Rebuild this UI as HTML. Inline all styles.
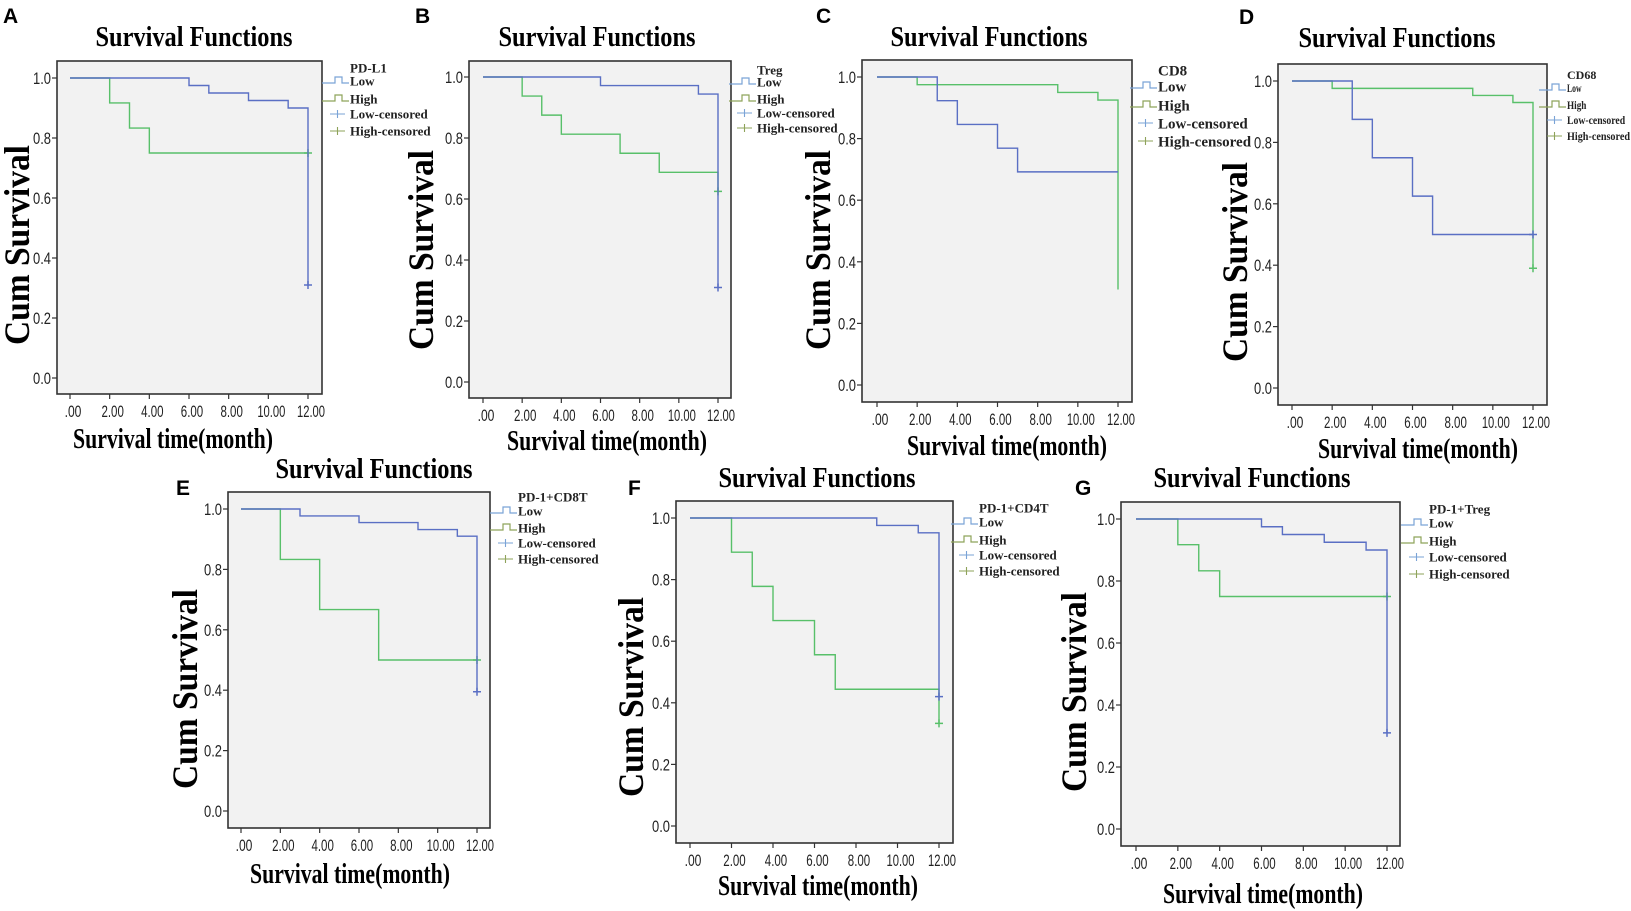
<!DOCTYPE html>
<html><head><meta charset="utf-8"><style>
html,body{margin:0;padding:0;background:#fff;}
svg{display:block;}
</style></head><body>
<svg id="fig" width="1631" height="911" viewBox="0 0 1631 911" xmlns="http://www.w3.org/2000/svg"></svg>
<script>
// ---- data (times in months, survival proportions) ----
const xTickLabels = [".00","2.00","4.00","6.00","8.00","10.00","12.00"];
const xTickValues = [0,2,4,6,8,10,12];
const yTickLabels = ["0.0","0.2","0.4","0.6","0.8","1.0"];
const yTickValues = [0,0.2,0.4,0.6,0.8,1.0];

const aLowT = [0,6,7,9,11,12];   const aLowS = [1,0.975,0.95,0.925,0.9,0.31];
const aHighT = [0,2,3,4,12];     const aHighS = [1,0.917,0.833,0.75,0.75];
const bLowT = [0,6,11,12];       const bLowS = [1,0.972,0.944,0.31];
const bHighT = [0,2,3,4,7,9,12]; const bHighS = [1,0.9375,0.875,0.8125,0.75,0.6875,0.625];
const cLowT = [0,3,4,6,7,12];    const cLowS = [1,0.923,0.846,0.769,0.692,0.692];
const cHighT = [0,2,9,11,12];    const cHighS = [1,0.975,0.95,0.925,0.31];
const dLowT = [0,3,4,6,7,12];    const dLowS = [1,0.875,0.75,0.625,0.5,0.5];
const dHighT = [0,2,9,11,12];    const dHighS = [1,0.976,0.953,0.93,0.39];
const eLowT = [0,3,6,9,11,12];   const eLowS = [1,0.977,0.955,0.932,0.91,0.395];
const eHighT = [0,2,4,7,12];     const eHighS = [1,0.833,0.667,0.5,0.5];
const fLowT = [0,9,11,12];       const fLowS = [1,0.976,0.952,0.42];
const fHighT = [0,2,3,4,6,7,12]; const fHighS = [1,0.889,0.778,0.667,0.556,0.444,0.333];
const gLowT = [0,6,7,9,11,12];   const gLowS = [1,0.975,0.95,0.925,0.9,0.31];
const gHighT = [0,2,3,4,12];     const gHighS = [1,0.917,0.833,0.75,0.75];
const censorLow = [true,true,false,true,true,true,true];
const censorHigh = [true,true,false,true,true,true,true];
const groupNames = ["PD-L1","Treg","CD8","CD68","PD-1+CD8T","PD-1+CD4T","PD-1+Treg"];
const panelLetters = ["A","B","C","D","E","F","G"];

// ---- layout ----
const panels = [
 {box:[57,61,322,394], px0:70, px12:308, py1:78, py0:378, title:[194,46,197], ylab:[17,245], xlab:[173,448], letter:[3,23], leg:[350,[68,81,99,114,131],13,0], low:[aLowT,aLowS], high:[aHighT,aHighS]},
 {box:[469,61,731,398], px0:483, px12:718, py1:77, py0:382, title:[597,46,197], ylab:[421,250], xlab:[607,450], letter:[415,23], leg:[757,[70,82,99,113,128],13,0], low:[bLowT,bLowS], high:[bHighT,bHighS]},
 {box:[862,60,1132,402], px0:877, px12:1118, py1:77, py0:385, title:[989,46,197], ylab:[818,250], xlab:[1007,455], letter:[816,23], leg:[1158,[70,86,105,123,141],15,0], low:[cLowT,cLowS], high:[cHighT,cHighS]},
 {box:[1278,64,1547,405], px0:1292, px12:1533, py1:81, py0:388, title:[1397,47,197], ylab:[1235,262], xlab:[1418,458], letter:[1239,24], leg:[1567,[75,88,105,120,136],12,63], low:[dLowT,dLowS], high:[dHighT,dHighS]},
 {box:[228,492,490,828], px0:241, px12:477, py1:509, py0:811, title:[374,478,197], ylab:[185,689], xlab:[350,883], letter:[176,495], leg:[518,[497,511,528,543,559],13,0], low:[eLowT,eLowS], high:[eHighT,eHighS]},
 {box:[676,501,953,843], px0:690, px12:939, py1:518, py0:826, title:[817,487,197], ylab:[631,697], xlab:[818,895], letter:[628,495], leg:[979,[508,522,540,555,571],13,0], low:[fLowT,fLowS], high:[fHighT,fHighS]},
 {box:[1121,502,1400,846], px0:1136, px12:1387, py1:519, py0:829, title:[1252,487,197], ylab:[1074,692], xlab:[1263,903], letter:[1075,495], leg:[1429,[509,523,541,557,574],13,0], low:[gLowT,gLowS], high:[gHighT,gHighS]}
];
const NS="http://www.w3.org/2000/svg";
const svg=document.getElementById('fig');
function mk(tag,attrs,parent,txt){const e=document.createElementNS(NS,tag);for(const k in attrs)e.setAttribute(k,attrs[k]);if(txt!==undefined)e.textContent=txt;(parent||svg).appendChild(e);return e;}
const LOWC="#5a6fc4", HIGHC="#58c06a";

panels.forEach((p,i)=>{
  const g=mk('g',{});
  
  
  const xs=v=>p.px0+(p.px12-p.px0)*v/12;
  const ys=v=>p.py0+(p.py1-p.py0)*v;
  const [bx0,by0,bx1,by1]=p.box;
  const lt=mk('text',{x:p.letter[0],y:p.letter[1],'font-family':'Liberation Sans, sans-serif','font-weight':'bold','font-size':21},g,panelLetters[i]);
  
  
  const tt=mk('text',{x:p.title[0],y:p.title[1],'text-anchor':'middle','font-family':'Liberation Serif, serif','font-weight':'bold','font-size':29,textLength:p.title[2],lengthAdjust:'spacingAndGlyphs'},g,'Survival Functions');
  
  
  const bg=mk('rect',{x:bx0,y:by0,width:bx1-bx0,height:by1-by0,fill:'#f2f2f2',stroke:'#333',"stroke-width":1.6},g);
  
  
  yTickValues.forEach((v,k)=>{
    const y=ys(v);
    mk('line',{x1:bx0-5,x2:bx0,y1:y,y2:y,stroke:'#333','stroke-width':1.2},g);
    const t=mk('text',{x:bx0-6,y:y+6,'text-anchor':'end','font-family':'Liberation Sans, sans-serif','font-size':17,textLength:18,lengthAdjust:'spacingAndGlyphs',fill:'#222'},g,yTickLabels[k]);
    
    
  });
  xTickValues.forEach((v,k)=>{
    const x=xs(v);
    mk('line',{x1:x,x2:x,y1:by1,y2:by1+5,stroke:'#333','stroke-width':1.2},g);
    const s=xTickLabels[k];
    const t=mk('text',{x:x+3,y:by1+23,'text-anchor':'middle','font-family':'Liberation Sans, sans-serif','font-size':17,textLength:s.length*5.6,lengthAdjust:'spacingAndGlyphs',fill:'#222'},g,s);
    
    
  });
  const yl=mk('text',{x:0,y:0,transform:`translate(${p.ylab[0]+12},${p.ylab[1]}) rotate(-90)`,'text-anchor':'middle','font-family':'Liberation Serif, serif','font-weight':'bold','font-size':36,textLength:200,lengthAdjust:'spacingAndGlyphs'},g,'Cum Survival');
  
  
  const xl=mk('text',{x:p.xlab[0],y:p.xlab[1],'text-anchor':'middle','font-family':'Liberation Serif, serif','font-weight':'bold','font-size':29,textLength:200,lengthAdjust:'spacingAndGlyphs'},g,'Survival time(month)');
  
  
  function curve(T,S,color,cens,name){
    let d=`M${xs(T[0])},${ys(S[0])}`;
    for(let k=1;k<T.length;k++){d+=` H${xs(T[k])} V${ys(S[k])}`;}
    const pth=mk('path',{d,fill:'none',stroke:color,'stroke-width':1.4},g);
    
    
    if(cens){
      const cx=xs(T[T.length-1]),cy=ys(S[S.length-1]);
      const c=mk('path',{d:`M${cx-4},${cy} H${cx+4} M${cx},${cy-4} V${cy+4}`,stroke:color,'stroke-width':1.5},g);
      
      
    }
  }
  curve(p.high[0],p.high[1],HIGHC,censorHigh[i],'high');
  curve(p.low[0],p.low[1],LOWC,censorLow[i],'low');
  // legend
  const [lx,lys,fs,tl]=p.leg;
  const leg=mk('g',{},g);
  
  
  const labels=[groupNames[i],'Low','High','Low-censored','High-censored'];
  labels.forEach((s,k)=>{
    const a={x:lx,y:lys[k]+fs*0.35,'font-family':'Liberation Serif, serif','font-weight':'bold','font-size':fs,fill:'#222'};
    if(tl&&k>0){a.textLength=tl*s.length/13;a.lengthAdjust='spacingAndGlyphs';}
    const t=mk('text',a,leg,s);
    
    
  });
  const yLow=lys[1]+2,yHigh=lys[2]+2;
  mk('path',{d:`M${lx-28},${yLow} H${lx-15} V${yLow-6} H${lx-8} V${yLow} H${lx-1}`,fill:'none',stroke:'#7aa3d6','stroke-width':1.2},leg);
  mk('path',{d:`M${lx-28},${yHigh} H${lx-15} V${yHigh-6} H${lx-8} V${yHigh} H${lx-1}`,fill:'none',stroke:'#8ea35a','stroke-width':1.2},leg);
  const yc1=lys[3],yc2=lys[4];
  mk('path',{d:`M${lx-20},${yc1} H${lx-5} M${lx-12.5},${yc1-4} V${yc1+4}`,stroke:'#7aa3d6','stroke-width':1.1},leg);
  mk('path',{d:`M${lx-20},${yc2} H${lx-5} M${lx-12.5},${yc2-4} V${yc2+4}`,stroke:'#8ea35a','stroke-width':1.1},leg);
});
</script>
</body></html>
